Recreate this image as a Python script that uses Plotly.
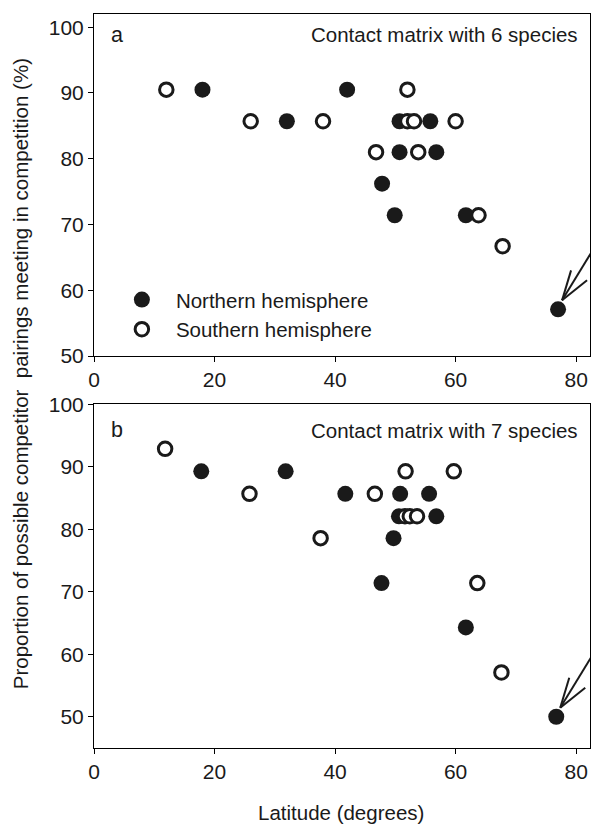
import plotly.graph_objects as go

# ---- data ----
a_north_lat = [18, 42, 32, 50.7, 55.8, 50.7, 56.8, 47.8, 49.9, 61.7, 77]
a_north_val = [90.5, 90.5, 85.7, 85.7, 85.7, 81.0, 81.0, 76.2, 71.4, 71.4, 57.1]
a_south_lat = [12, 52, 26, 38, 52.0, 53.1, 60, 46.8, 53.8, 63.8, 67.8]
a_south_val = [90.5, 90.5, 85.7, 85.7, 85.7, 85.7, 85.7, 81.0, 81.0, 71.4, 66.7]

b_north_lat = [17.8, 31.8, 41.7, 50.8, 55.6, 50.6, 56.8, 49.7, 47.7, 61.7, 76.7]
b_north_val = [89.3, 89.3, 85.7, 85.7, 85.7, 82.1, 82.1, 78.6, 71.4, 64.3, 50.0]
b_south_lat = [11.8, 51.7, 59.7, 25.8, 46.6, 51.6, 52.4, 53.6, 37.6, 63.6, 67.6]
b_south_val = [92.9, 89.3, 89.3, 85.7, 85.7, 82.1, 82.1, 82.1, 78.6, 71.4, 57.1]

x_ticks = [0, 20, 40, 60, 80]
y_ticks = [50, 60, 70, 80, 90, 100]
panel_labels = ["a", "b"]
panel_titles = ["Contact matrix with 6 species", "Contact matrix with 7 species"]
series_names = ["Northern hemisphere", "Southern hemisphere"]
x_title = "Latitude (degrees)"
y_title = "Proportion of possible competitor&nbsp; pairings meeting in competition (%)"

FONT = "Liberation Sans, Arial, Helvetica, sans-serif"
FS = 20.5

fig = go.Figure()

filled = dict(symbol="circle", size=16, color="#1a1a1a", line=dict(width=0))
hollow = dict(symbol="circle", size=13.5, color="white", line=dict(width=3, color="#1a1a1a"))

fig.add_trace(go.Scatter(x=a_north_lat, y=a_north_val, mode="markers", marker=filled,
                         name=series_names[0], xaxis="x", yaxis="y"))
fig.add_trace(go.Scatter(x=a_south_lat, y=a_south_val, mode="markers", marker=hollow,
                         name=series_names[1], xaxis="x", yaxis="y"))
fig.add_trace(go.Scatter(x=b_north_lat, y=b_north_val, mode="markers", marker=filled,
                         showlegend=False, xaxis="x2", yaxis="y2"))
fig.add_trace(go.Scatter(x=b_south_lat, y=b_south_val, mode="markers", marker=hollow,
                         showlegend=False, xaxis="x2", yaxis="y2"))

axis_common = dict(showline=True, linecolor="black", linewidth=1, mirror=True,
                   ticks="outside", ticklen=5, tickwidth=1, tickcolor="black",
                   showgrid=False, zeroline=False,
                   tickfont=dict(family=FONT, size=21, color="#1a1a1a"))

fig.update_layout(
    width=593, height=831,
    margin=dict(l=94, r=2, t=10, b=83),
    paper_bgcolor="white", plot_bgcolor="white",
    font=dict(family=FONT, size=FS, color="#1a1a1a"),
    xaxis=dict(domain=[0, 1], range=[0, 82.3], tickvals=x_ticks, anchor="y", **axis_common),
    yaxis=dict(domain=[0.534, 1], range=[50, 102], tickvals=y_ticks, anchor="x", **axis_common),
    xaxis2=dict(domain=[0, 1], range=[0, 82.3], tickvals=x_ticks, anchor="y2", **axis_common),
    yaxis2=dict(domain=[0, 0.468], range=[45, 100], tickvals=y_ticks, anchor="x2", **axis_common),
    showlegend=True,
    legend=dict(x=0.028, y=0.638, xanchor="left", yanchor="top", xref="paper", yref="paper",
                bgcolor="rgba(0,0,0,0)", itemwidth=58,
                font=dict(family=FONT, size=FS, color="#1a1a1a")),
)

# panel labels and titles
for i, (lab, tit) in enumerate(zip(panel_labels, panel_titles)):
    xr = "x domain" if i == 0 else "x2 domain"
    yr = "y domain" if i == 0 else "y2 domain"
    yy = 0.94 if i == 0 else 0.925
    fig.add_annotation(text=lab, xref=xr, yref=yr, x=0.047, y=yy,
                       xanchor="center", yanchor="middle", showarrow=False,
                       font=dict(family=FONT, size=FS + 1, color="#1a1a1a"))
    fig.add_annotation(text=tit, xref=xr, yref=yr, x=0.98, y=yy,
                       xanchor="right", yanchor="middle", showarrow=False,
                       font=dict(family=FONT, size=FS, color="#1a1a1a"))

# axis titles
fig.add_annotation(text=x_title, xref="paper", yref="paper", x=0.497, y=-0.088,
                   xanchor="center", yanchor="middle", showarrow=False,
                   font=dict(family=FONT, size=FS, color="#1a1a1a"))
fig.add_annotation(text=y_title, xref="paper", yref="paper", x=-0.148, y=0.51,
                   xanchor="center", yanchor="middle", showarrow=False, textangle=-90,
                   font=dict(family=FONT, size=FS, color="#1a1a1a"))

# arrows pointing at the most northerly point (open V heads), anchored on the data point
arrow_targets = [("x", "y", a_north_lat[-1], a_north_val[-1]),
                 ("x2", "y2", b_north_lat[-1], b_north_val[-1])]
for xr, yr, ax, ay in arrow_targets:
    tip = (4, 9)
    for dx, dy in [(44, 72), (9, 30), (25, 20)]:
        fig.add_shape(type="line", xref=xr, yref=yr, xsizemode="pixel", ysizemode="pixel",
                      xanchor=ax, yanchor=ay, x0=tip[0], y0=tip[1],
                      x1=tip[0] + dx, y1=tip[1] + dy,
                      line=dict(color="#1a1a1a", width=2))

fig.write_html("out.html")
